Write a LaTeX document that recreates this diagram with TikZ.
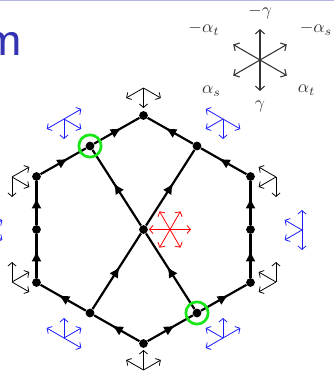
\documentclass[tikz,border=0pt]{standalone}
\usepackage{tikz}
\usetikzlibrary{arrows.meta,decorations.markings}
\definecolor{azultitulo}{HTML}{3333B3}
\definecolor{lilas}{HTML}{B4B4E6}
\definecolor{verdeanel}{HTML}{19E619}
\definecolor{azulraio}{HTML}{1A1AFF}
\definecolor{cinzaeixo}{HTML}{333333}

\begin{document}
\begin{tikzpicture}[x=0.02cm, y=0.02cm,
  vertice/.style={circle, fill=black, inner sep=0pt, minimum size=0.175cm},
  aresta/.style={line width=1.25pt, postaction={decorate},
                 decoration={markings, mark=at position 0.5 with
                   {\arrow[xshift=3.1pt]{Latex[length=6.2pt,width=5.8pt]}}}},
  raio/.style={-{Straight Barb[length=2pt,width=4.6pt]}, line width=0.45pt},
  eixo/.style={-{Straight Barb[length=2.4pt,width=5.2pt]}, line width=0.6pt, cinzaeixo},
  rotulo/.style={inner sep=0pt, text=cinzaeixo},
  anel/.style={circle, draw=verdeanel, line width=1.55pt, minimum size=0.446cm, inner sep=0pt}
]
\useasboundingbox (0,0) rectangle (334,-372);
\clip (0,0) rectangle (334,-372);
\fill[lilas] (0,0) rectangle (334,-1.5);
\node[font=\sffamily\fontsize{30}{36}\selectfont, text=azultitulo, anchor=base east, inner sep=0pt]
  (titulo) at (23,-55) {m};

% legenda das direcoes
\coordinate (leg) at (260,-60);
\foreach \a in {30,90,150,210,270,330}
  \draw[eixo] (leg) -- ++(\a:31);
\node[rotulo] (mgama) at (260,-12.5) {$-\gamma$};
\node[rotulo] (mat)   at (204,-29)   {$-\alpha_t$};
\node[rotulo] (mas)   at (316,-29)   {$-\alpha_s$};
\node[rotulo] (as)    at (211.5,-91) {$\alpha_s$};
\node[rotulo] (at)    at (306.5,-90) {$\alpha_t$};
\node[rotulo] (gama)  at (260,-106)  {$\gamma$};

% vertices
\node[vertice] (T)  at (143.5,-115.5) {};
\node[vertice] (UL) at (90,-146)      {};
\node[vertice] (UR) at (197,-146)     {};
\node[vertice] (L1) at (36.5,-176.5)  {};
\node[vertice] (R1) at (250.5,-176.5) {};
\node[vertice] (L2) at (36.5,-229.5)  {};
\node[vertice] (C)  at (143.5,-229.5) {};
\node[vertice] (R2) at (250.5,-229.5) {};
\node[vertice] (L3) at (36.5,-282.5)  {};
\node[vertice] (R3) at (250.5,-282.5) {};
\node[vertice] (LL) at (90,-313)      {};
\node[vertice] (LR) at (197,-313)     {};
\node[vertice] (B)  at (143.5,-343.5) {};

\draw[aresta] (L3) -- (L2);
\draw[aresta] (L2) -- (L1);
\draw[aresta] (R3) -- (R2);
\draw[aresta] (R2) -- (R1);
\draw[aresta] (L1) -- (UL);
\draw[aresta] (UL) -- (T);
\draw[aresta] (R1) -- (UR);
\draw[aresta] (UR) -- (T);
\draw[aresta] (B) -- (LL);
\draw[aresta] (LL) -- (L3);
\draw[aresta] (B) -- (LR);
\draw[aresta] (LR) -- (R3);
\draw[aresta] (LL) -- (C);
\draw[aresta] (C) -- (UR);
\draw[aresta] (LR) -- (C);
\draw[aresta] (C) -- (UL);

\node[anel] (anelUL) at (UL) {};
\node[anel] (anelLR) at (LR) {};

% estrelas pretas nos cantos
\coordinate (eT)  at (143.5,-88);
\coordinate (eL1) at (12,-177);
\coordinate (eR1) at (276,-177);
\coordinate (eL3) at (12,-282);
\coordinate (eR3) at (276,-282);
\coordinate (eB)  at (143.5,-370);
\foreach \a in {210,270,330} \draw[raio] (eT) -- ++(\a:20);
\foreach \a in {30,270,330}  \draw[raio] (eL1) -- ++(\a:20);
\foreach \a in {150,210,270} \draw[raio] (eR1) -- ++(\a:20);
\foreach \a in {30,90,330}   \draw[raio] (eL3) -- ++(\a:20);
\foreach \a in {90,150,210}  \draw[raio] (eR3) -- ++(\a:20);
\foreach \a in {30,90,150}   \draw[raio] (eB) -- ++(\a:20);

% estrelas azuis
\coordinate (eUL) at (64,-119);
\coordinate (eUR) at (223,-119);
\coordinate (eL2) at (-15,-230);
\coordinate (eR2) at (302,-230);
\coordinate (eLL) at (64,-338);
\coordinate (eLR) at (223,-338);
\foreach \a in {30,210,270,330}  \draw[raio, azulraio] (eUL) -- ++(\a:20);
\foreach \a in {150,210,270,330} \draw[raio, azulraio] (eUR) -- ++(\a:20);
\foreach \a in {30,90,270,330}   \draw[raio, azulraio] (eL2) -- ++(\a:20);
\foreach \a in {90,150,210,270}  \draw[raio, azulraio] (eR2) -- ++(\a:20);
\foreach \a in {30,90,150,330}   \draw[raio, azulraio] (eLL) -- ++(\a:20);
\foreach \a in {30,90,150,210}   \draw[raio, azulraio] (eLR) -- ++(\a:20);

% estrela vermelha
\coordinate (eC) at (170,-229.5);
\foreach \a in {0,60,...,300} \draw[raio, red] (eC) -- ++(\a:21);
\end{tikzpicture}
\end{document}
